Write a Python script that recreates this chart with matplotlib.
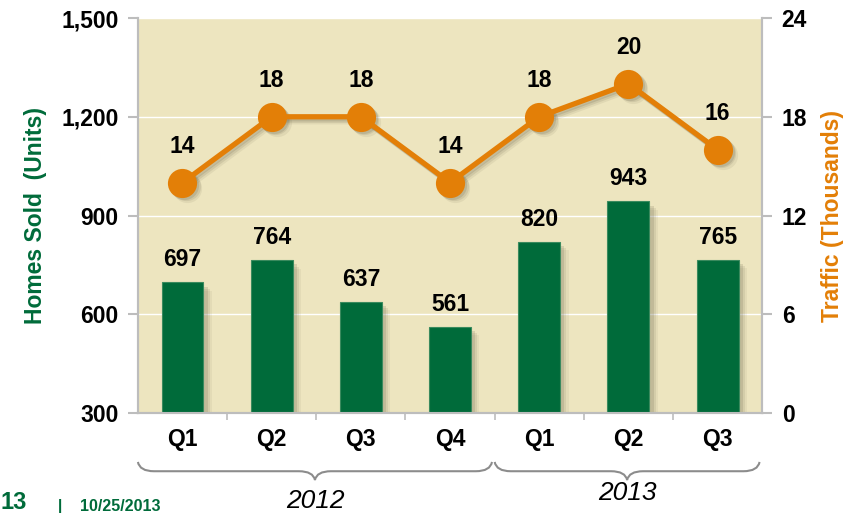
#!/usr/bin/env python3
"""Homes sold (bars) vs. traffic (line) by quarter."""
import numpy as np
import matplotlib
matplotlib.use("Agg")
import matplotlib.pyplot as plt
import matplotlib.patheffects as pe
from matplotlib.path import Path
from matplotlib.patches import PathPatch
import matplotlib.transforms as mtransforms

quarters = ["Q1", "Q2", "Q3", "Q4", "Q1", "Q2", "Q3"]
homes_sold = [697, 764, 637, 561, 820, 943, 765]
traffic = [14, 18, 18, 14, 18, 20, 16]
years = ["2012", "2013"]
year_spans = [(0, 3), (4, 6)]  # first/last quarter index per year

GREEN = "#006B3A"
ORANGE = "#E37F07"
BG = "#EDE5BF"
GRAY = "#BDBDBD"
SHADOW = "#6E6850"
FS = 16.5

plt.rcParams["font.family"] = ["Liberation Sans", "DejaVu Sans"]

fig = plt.figure(figsize=(8.46, 5.15), dpi=100)
ax = fig.add_axes([0.163, 0.198, 0.738, 0.767])
ax2 = ax.twinx()

x = np.arange(len(quarters))
soft = [pe.SimplePatchShadow(offset=(o, -o), shadow_rgbFace=SHADOW, alpha=a)
        for o, a in [(6, 0.08), (4.5, 0.12), (3, 0.18)]] + [pe.Normal()]

# --- bars ---
ax.set_facecolor(BG)
bars = ax.bar(x, homes_sold, width=0.47, bottom=0, color=GREEN,
              edgecolor="#3A8A5E", linewidth=0.8, zorder=3)
for b in bars:
    b.set_path_effects(soft)
for xi, v in zip(x, homes_sold):
    ax.annotate(f"{v}", (xi, v), xytext=(0, 8), textcoords="offset points",
                ha="center", va="bottom", fontsize=FS, fontweight="bold")
ax.set_ylim(300, 1500)
ax.set_yticks([300, 600, 900, 1200, 1500])
ax.set_yticklabels([f"{v:,}" for v in [300, 600, 900, 1200, 1500]])
ax.set_xlim(-0.5, len(quarters) - 0.5)
ax.set_xticks(x)
ax.set_xticklabels(quarters)
ax.set_xticks(np.arange(0.5, len(quarters) - 1, 1.0), minor=True)
ax.grid(axis="y", color="white", linewidth=1, zorder=1)
ax.set_axisbelow(True)

# --- traffic line (with soft offset shadow) ---
for o, a in [(5, 0.10), (3.5, 0.15), (2, 0.2)]:
    sh = mtransforms.offset_copy(ax2.transData, fig=fig, x=o, y=-o, units="dots")
    ax2.plot(x, traffic, color=SHADOW, alpha=a, linewidth=3.8, marker="o",
             markersize=21, markeredgewidth=0, transform=sh, zorder=3)
ax2.plot(x, traffic, color=ORANGE, linewidth=3.8, marker="o", markersize=21,
         markeredgewidth=0, zorder=4)
for xi, v in zip(x, traffic):
    ax2.annotate(f"{v}", (xi, v), xytext=(0, 18), textcoords="offset points",
                 ha="center", va="bottom", fontsize=FS, fontweight="bold")
ax2.set_ylim(0, 24)
ax2.set_yticks([0, 6, 12, 18, 24])

for a in (ax, ax2):
    a.spines["top"].set_visible(False)
    for s in ("left", "right", "bottom"):
        a.spines[s].set_color(GRAY)
        a.spines[s].set_linewidth(1.5)
    a.tick_params(axis="y", length=7, width=1.5, color=GRAY, labelsize=FS, pad=7)
    for lab in a.get_yticklabels():
        lab.set_fontweight("bold")
ax.tick_params(axis="x", which="major", length=0, labelsize=FS, pad=11)
ax.tick_params(axis="x", which="minor", length=5, width=1.2, color=GRAY)
for lab in ax.get_xticklabels():
    lab.set_fontweight("bold")

ax.set_ylabel("Homes Sold  (Units)", color=GREEN, fontsize=FS, fontweight="bold",
              labelpad=10)
ax2.set_ylabel("Traffic (Thousands)", color=ORANGE, fontsize=FS, fontweight="bold",
               labelpad=10)

# --- year braces below the quarter labels ---
trans = mtransforms.blended_transform_factory(ax.transData, fig.transFigure)
y_top, y_mid, y_tip = 0.103, 0.085, 0.068
for (i0, i1), yr in zip(year_spans, years):
    x0, x1 = i0 - 0.5, i1 + 0.47
    xm = (x0 + x1) / 2
    r = 0.18
    verts = [(x0, y_top), (x0 + 0.02, y_mid), (x0 + r, y_mid),
             (xm - r, y_mid), (xm - 0.02, y_mid), (xm, y_tip),
             (xm + 0.02, y_mid), (xm + r, y_mid),
             (x1 - r, y_mid), (x1 - 0.02, y_mid), (x1, y_top)]
    codes = [Path.MOVETO, Path.CURVE3, Path.CURVE3,
             Path.LINETO, Path.CURVE3, Path.CURVE3,
             Path.CURVE3, Path.CURVE3,
             Path.LINETO, Path.CURVE3, Path.CURVE3]
    fig.patches.append(PathPatch(Path(verts, codes), transform=trans,
                                 facecolor="none", edgecolor="#8C8C8C",
                                 linewidth=1.5))
    fig.text(xm, 0.004 if yr == "2012" else 0.02, yr, transform=trans,
             ha="center", va="bottom", fontsize=19, fontstyle="italic")

# --- footer ---
fig.text(0.0, 0.002, "13", color=GREEN, fontsize=17, fontweight="bold",
         ha="left", va="bottom")
fig.text(0.068, 0.004, "|", color=GREEN, fontsize=11, fontweight="bold",
         ha="left", va="bottom")
fig.text(0.094, 0.002, "10/25/2013", color=GREEN, fontsize=11.5, fontweight="bold",
         ha="left", va="bottom")

fig.savefig("out.png", dpi=100)
